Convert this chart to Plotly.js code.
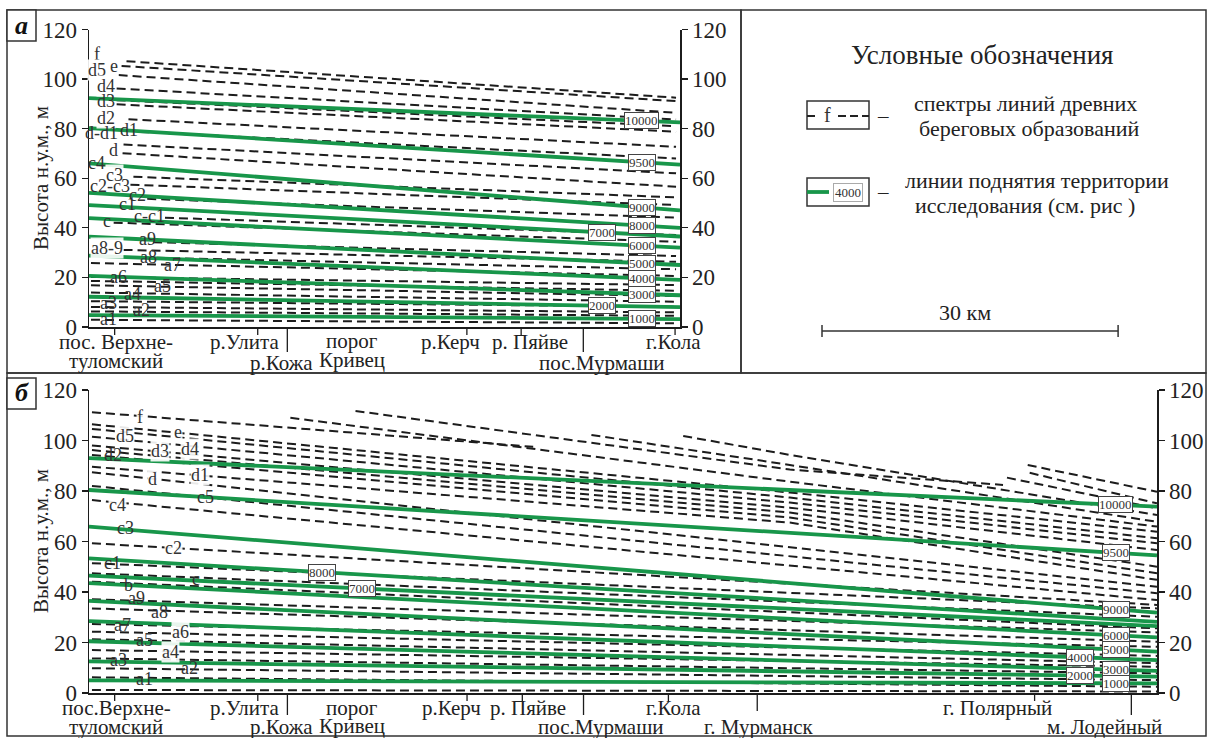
<!DOCTYPE html>
<html>
<head>
<meta charset="utf-8">
<script src="https://cdn.plot.ly/plotly-3.0.1.min.js"></script>
<style>
html,body{margin:0;padding:0;background:#fff;}
#chart{width:1210px;height:738px;}
</style>
</head>
<body>
<div id="chart"></div>
<script>
// ================= DATA =================
// ---- Panel а ----
const A_END = 59.9;              // km, right edge of panel а
const isoA_names = ['10000','9500','9000','8000','7000','6000','5000','4000','3000','2000','1000'];
const isoA_left  = [92.3, 80.2, 66.0, 54.1, 49.2, 43.9, 36.4, 28.8, 20.6, 12.2, 4.8];
const isoA_right = [82.5, 65.5, 47.0, 40.0, 36.5, 32.0, 25.0, 19.0, 12.8, 8.0, 3.2];
const isoA_labelKm = [56, 56, 56, 56, 52, 56, 56, 56, 56, 52, 56];

const shoreA_start = [3.8, 3.3, 3.0, 2.8, 2.8, 2.8, 4.0, 5.2, 3.5, 3.4, 4.5, 4.2, 5.9, 7.7, 2.5, 6.5, 3.5, 6.9, 0.2, 0.2, 0.2, 0.2, 0.2, 0.2, 0.2, 0.2, 0.2];
const shoreA_left  = [107.2, 105.3, 101.6, 96.2, 91.5, 89.8, 83.8, 78.7, 73.6, 70.1, 60.6, 57.4, 51.7, 44.1, 42.1, 34.2, 31.1, 27.9, 25.8, 20.2, 18.6, 16.8, 13.9, 10.4, 8.1, 6.3, 2.9];
const shoreA_right = [92.5, 91.1, 86.4, 83.7, 81.0, 78.8, 72.7, 68.0, 62.0, 56.6, 52.3, 49.2, 44.1, 37.1, 34.4, 28.6, 26.3, 23.3, 20.6, 16.9, 14.6, 12.5, 10.2, 8.2, 5.9, 4.5, 1.5];
const shoreA_end = 59.5;

const labA_text = ['f','d5','e','d4','d3','d2','d-d1','d1','d','c4','c3','c2-c3','c2','c1','c','c-c1','a9','a8-9','a8','a7','a6','a5','a4','a3','a2','a1'];
const labA_km   = [0.81,0.81,2.53,1.72,1.72,1.72,1.22,4.05,2.53,0.81,2.63,2.13,4.96,3.95,1.82,6.18,5.88,1.82,5.98,8.51,3.04,7.4,4.36,1.93,5.37,1.93];
const labA_h    = [110.1,103.6,105.2,97.2,91.1,84.3,78.2,79.4,71.4,66.1,61.3,56.9,53.2,49.6,42.7,44.8,35.5,31.9,28.2,25.0,20.2,16.5,13.3,9.7,6.9,3.2];

// ---- Panel б ----
const B_END = 108.2;
const isoB_names = ['10000','9500','9000','8000','7000','6000','5000','4000','3000','2000','1000'];
const isoB_left  = [93.0, 80.4, 65.9, 53.3, 46.5, 43.5, 36.5, 28.5, 20.5, 12.5, 5.0];
const isoB_right = [73.8, 54.5, 31.8, 28.2, 26.5, 22.0, 16.4, 13.0, 8.8, 6.5, 3.8];
const isoB_labelKm = [104, 104, 104, 23.6, 27.7, 104, 104, 100.4, 104, 100.4, 104];

const shoreB_x = [
  [0.3, 45], [20.4, 71, 108.2], [27, 71, 92.6], [50.9, 71, 108.2], [60.2, 71, 108.2],
  [93, 108.2], [95.1, 108.2], [95.3, 108.2],
  [0.3, 71, 108.2], [0.3, 71, 108.2], [0.3, 71, 108.2], [0.3, 71, 108.2], [0.3, 71, 108.2], [0.3, 71, 108.2], [0.3, 71, 108.2],
  [0.3, 108.2], [0.3, 108.2], [0.3, 108.2], [0.3, 108.2], [0.3, 108.2], [0.3, 108.2], [0.3, 108.2], [0.3, 108.2],
  [0.3, 108.2], [0.3, 108.2], [0.3, 108.2], [0.3, 108.2], [0.3, 108.2], [0.3, 108.2], [0.3, 108.2], [0.3, 108.2], [0.3, 108.2]
];
const shoreB_v = [
  [111.2, 97.5], [109, 83.7, 65.9], [111.7, 88.5, 82.4], [102.2, 90.3, 67.8], [101.8, 94.3, 70.5],
  [85.3, 73.1], [90.3, 79.7], [87.2, 75.1],
  [106.4, 79.4, 63.9], [104.6, 77.4, 61.3], [101.5, 75.4, 59.3], [98, 73.4, 56.6], [96.2, 71.5, 50], [94.3, 69.5, 47.4], [89.6, 67.5, 44.8],
  [87.4, 42.1], [82, 39.5], [76.4, 36.8], [59.3, 34.9], [51.4, 33.5], [47.4, 30.2], [44.1, 25.6], [37.1, 24],
  [33.5, 20.3], [27.3, 18.3], [24.3, 14.7], [21.3, 11.8], [17, 10.4], [13.7, 7.8], [9.8, 5.1], [6.2, 2.5], [1.2, 0.6]
];

const labB_text = ['f','d5','e','d2','d3','d4','d','d1','c5','c4','c3','c2','c1','c','b','a9','a8','a7','a6','a5','a4','a3','a2','a1'];
const labB_km   = [5.17,3.65,9.02,2.43,7.19,10.23,6.48,11.25,11.85,2.84,3.65,8.51,2.43,10.84,4.05,4.86,7.19,3.44,9.22,5.67,8.21,2.94,10.23,5.67];
const labB_h    = [109.3,101.8,103.4,94.3,95.8,96.6,84.8,86.3,77.6,74.5,65.3,57.4,51.5,45.1,42.8,37.6,32.1,26.9,24.2,21.0,16.2,13.1,9.9,5.5];

// ---- Place names along the profiles ----
const placesA      = ['пос. Верхне-|туломский','р.Улита','р.Кожа','порог|Кривец','р.Керч','р. Пяйве','пос.Мурмаши','г.Кола'];
const placesA_km   = [2.6, 17.1, 20.1, 26.7, 38.3, 43.8, 50.1, 59.4];
const placesB      = ['пос.Верхне-|туломский','р.Улита','р.Кожа','порог|Кривец','р.Керч','р. Пяйве','пос.Мурмаши','г.Кола','г. Мурманск','г. Полярный','м. Лодейный'];
const placesB_km   = [2.6, 17.1, 20.1, 26.7, 38.3, 43.9, 50.1, 58.7, 67.7, 95.8, 105.6];

const yTicks = [0, 20, 40, 60, 80, 100, 120];

// ================= PRESENTATION =================
const W = 1210, H = 738;
const FONT = '"Times New Roman", "Liberation Serif", "DejaVu Serif", serif';
const GREEN = '#18964a';
const DARK = '#1c1c1c';
const PX_PER_KM = 9.87;
const px = x => x / W;
const py = y => 1 - y / H;

const A = {x0: 89, x1: 680, yTop: 29.5, yBot: 327};
const Bp = {x0: 89, x1: 1157, yTop: 390, yBot: 693};

const tickA_len = [8, 8, 25, 0, 8, 8, 25, 8];
const tickB_len = [8, 8, 22, 0, 8, 8, 22, 8, 18, 8, 22];
const labA_px = [[116,342,361],[244,342],[281,363],[352,341,360],[450,342],[530,342],[602,363],[673,342]];
const labB_px = [[116,708,727],[244,708],[281,727],[352,708,726],[451,708],[528,708],[601,727],[673,708],[759,727],[997,708],[1104,727]];
// labels that break a dashed line (drawn on a white patch)
const labA_gap = [1,1,1,1,0,1,0,0,1,0,1,0,0,0,0,0,0,1,0,0,0,0,0,0,0,0];
const labB_gap = [1,1,1,0,1,1,1,1,0,1,0,1,0,0,0,0,0,0,1,0,1,0,0,0];

const traces = [];
const annotations = [];
const shapes = [];

function ann(o) {
  annotations.push(Object.assign({showarrow: false, xanchor: 'center', yanchor: 'middle'}, o));
}
function txtP(x, y, text, size, extra) {
  ann(Object.assign({xref: 'paper', yref: 'paper', x: px(x), y: py(y), text: text,
    font: {family: FONT, size: size, color: '#222'}}, extra || {}));
}

function interp(xs, vs, x) {
  for (let i = 0; i < xs.length - 1; i++) {
    if (x >= xs[i] && x <= xs[i+1]) {
      return vs[i] + (vs[i+1] - vs[i]) * (x - xs[i]) / (xs[i+1] - xs[i]);
    }
  }
  return vs[vs.length - 1];
}

const dashStyle = {color: DARK, width: 2, dash: '9px,5px'};
const greenStyle = {color: GREEN, width: 3.8};
const isoFont = {family: FONT, size: 13, color: '#333'};
const shoreFont = {family: FONT, size: 18, color: '#333'};

// ---- Panel а traces ----
for (let i = 0; i < shoreA_left.length; i++) {
  traces.push({x: [shoreA_start[i], shoreA_end], y: [shoreA_left[i], shoreA_right[i]], xaxis: 'x', yaxis: 'y',
    mode: 'lines', line: dashStyle, hoverinfo: 'skip', showlegend: false});
}
for (let i = 0; i < isoA_left.length; i++) {
  traces.push({x: [0, A_END], y: [isoA_left[i], isoA_right[i]], xaxis: 'x', yaxis: 'y',
    mode: 'lines', line: greenStyle, hoverinfo: 'skip', showlegend: false, name: isoA_names[i]});
  const lk = isoA_labelKm[i];
  ann({xref: 'x', yref: 'y', x: lk, y: interp([0, A_END], [isoA_left[i], isoA_right[i]], lk),
    text: isoA_names[i], font: isoFont, bgcolor: '#fff', bordercolor: '#444', borderwidth: 1, borderpad: 0});
}
for (let i = 0; i < labA_text.length; i++) {
  ann({xref: 'x', yref: 'y', x: labA_km[i], y: labA_h[i], text: labA_text[i], font: shoreFont,
    bgcolor: labA_gap[i] ? 'rgba(255,255,255,0.9)' : 'rgba(0,0,0,0)', borderpad: 0});
}

// ---- Panel б traces ----
for (let i = 0; i < shoreB_x.length; i++) {
  traces.push({x: shoreB_x[i], y: shoreB_v[i], xaxis: 'x2', yaxis: 'y2',
    mode: 'lines', line: dashStyle, hoverinfo: 'skip', showlegend: false});
}
for (let i = 0; i < isoB_left.length; i++) {
  traces.push({x: [0, B_END], y: [isoB_left[i], isoB_right[i]], xaxis: 'x2', yaxis: 'y2',
    mode: 'lines', line: greenStyle, hoverinfo: 'skip', showlegend: false, name: isoB_names[i]});
  const lk = isoB_labelKm[i];
  ann({xref: 'x2', yref: 'y2', x: lk, y: interp([0, B_END], [isoB_left[i], isoB_right[i]], lk),
    text: isoB_names[i], font: isoFont, bgcolor: '#fff', bordercolor: '#444', borderwidth: 1, borderpad: 0});
}
for (let i = 0; i < labB_text.length; i++) {
  ann({xref: 'x2', yref: 'y2', x: labB_km[i], y: labB_h[i], text: labB_text[i], font: shoreFont,
    bgcolor: labB_gap[i] ? 'rgba(255,255,255,0.9)' : 'rgba(0,0,0,0)', borderpad: 0});
}

// ---- x-axis place ticks and labels ----
function places(names, kms, lens, pos, xref, yBot) {
  for (let i = 0; i < names.length; i++) {
    if (lens[i] > 0) {
      shapes.push({type: 'line', xref: xref, yref: 'paper', x0: kms[i], x1: kms[i],
        y0: py(yBot), y1: py(yBot + lens[i]), line: {color: DARK, width: 1.3}});
    }
    names[i].split('|').forEach((t, j) => txtP(pos[i][0], pos[i][1 + j], t, 21));
  }
}
places(placesA, placesA_km, tickA_len, labA_px, 'x', A.yBot);
places(placesB, placesB_km, tickB_len, labB_px, 'x2', Bp.yBot);

// ---- frames ----
const frameLine = {color: '#333', width: 1.5};
const rectP = (x0, x1, y0, y1, line, fill) => shapes.push({type: 'rect', xref: 'paper', yref: 'paper',
  x0: px(x0), x1: px(x1), y0: py(y1), y1: py(y0), line: line, fillcolor: fill || 'rgba(0,0,0,0)'});
const lineP = (x0, y0, x1, y1, line) => shapes.push({type: 'line', xref: 'paper', yref: 'paper',
  x0: px(x0), x1: px(x1), y0: py(y0), y1: py(y1), line: line});

rectP(7, 741, 10, 373, frameLine);
rectP(741, 1206, 10, 373, frameLine);
rectP(7, 1206, 373, 736, frameLine);
rectP(7, 36, 10, 41, frameLine, '#fff');
rectP(7, 36, 378, 409, frameLine, '#fff');
txtP(21.5, 25, '<b><i>a</i></b>', 26, {font: {family: FONT, size: 26, color: '#111'}});
txtP(21.5, 393, '<b><i>б</i></b>', 26, {font: {family: FONT, size: 26, color: '#111'}});

// y-axis titles
txtP(41, 178, 'Высота н.у.м., м', 21, {textangle: -90});
txtP(41, 541, 'Высота н.у.м., м', 21, {textangle: -90});

// ---- legend (Условные обозначения) ----
txtP(982, 55, 'Условные обозначения', 27);
rectP(807, 869, 101, 129, {color: '#333', width: 1.5});
lineP(807, 116, 815, 116, {color: '#222', width: 2});
lineP(838, 116, 869, 116, {color: '#222', width: 2, dash: '8px,4px'});
txtP(827, 115, 'f', 20, {font: {family: FONT, size: 20, color: '#333'}});
txtP(883, 116, '–', 21);
txtP(1025, 104, 'спектры линий древних', 22);
txtP(1029, 128, 'береговых образований', 22);

rectP(807, 869, 178, 206, {color: '#333', width: 1.5});
lineP(807, 192, 829, 192, {color: GREEN, width: 3.8});
txtP(848, 192, '4000', 13, {font: isoFont, bgcolor: '#fff', bordercolor: '#aaa', borderwidth: 1, borderpad: 1});
txtP(883, 192, '–', 21);
txtP(1037, 181, 'линии поднятия территории', 22);
txtP(1025, 205, 'исследования (см. рис )', 22);

// scale bar 30 km
const sbY = 331, sbX0 = 822;
const sbX1 = sbX0 + 30 * PX_PER_KM;
lineP(sbX0, sbY, sbX1, sbY, {color: '#333', width: 1.5});
lineP(sbX0, sbY - 6, sbX0, sbY + 6, {color: '#333', width: 1.5});
lineP(sbX1, sbY - 6, sbX1, sbY + 6, {color: '#333', width: 1.5});
txtP(965, 312, '30 км', 22);

// ---- axes ----
const yAx = (dom, anchor, side, overlay) => {
  const o = {domain: dom, range: [0, 120], anchor: anchor, side: side, tickvals: yTicks, ticks: 'outside', ticklen: 6,
    tickwidth: 1.3, tickcolor: DARK, showline: true, linecolor: DARK, linewidth: 1.5, showgrid: false, zeroline: false,
    tickfont: {family: FONT, size: 23, color: '#222'}, fixedrange: true};
  if (overlay) o.overlaying = overlay;
  return o;
};
const xAx = (dom, anchor, range) => ({domain: dom, range: range, anchor: anchor, showline: true, linecolor: DARK,
  linewidth: 1.5, showgrid: false, zeroline: false, showticklabels: false, ticks: '', fixedrange: true});

const layout = {
  width: W, height: H, margin: {l: 0, r: 0, t: 0, b: 0}, paper_bgcolor: '#fff', plot_bgcolor: 'rgba(0,0,0,0)',
  showlegend: false,
  font: {family: FONT},
  xaxis: xAx([px(A.x0), px(A.x1)], 'y', [0, A_END]),
  yaxis: yAx([py(A.yBot), py(A.yTop)], 'x', 'left'),
  yaxis3: yAx([py(A.yBot), py(A.yTop)], 'x', 'right', 'y'),
  xaxis2: xAx([px(Bp.x0), px(Bp.x1)], 'y2', [0, B_END]),
  yaxis2: yAx([py(Bp.yBot), py(Bp.yTop)], 'x2', 'left'),
  yaxis4: yAx([py(Bp.yBot), py(Bp.yTop)], 'x2', 'right', 'y2'),
  annotations: annotations,
  shapes: shapes
};
traces.push({x: [0], y: [0], xaxis: 'x', yaxis: 'y3', mode: 'markers', marker: {opacity: 0}, hoverinfo: 'skip', showlegend: false});
traces.push({x: [0], y: [0], xaxis: 'x2', yaxis: 'y4', mode: 'markers', marker: {opacity: 0}, hoverinfo: 'skip', showlegend: false});

Plotly.newPlot('chart', traces, layout, {staticPlot: true, displayModeBar: false});
</script>
</body>
</html>
